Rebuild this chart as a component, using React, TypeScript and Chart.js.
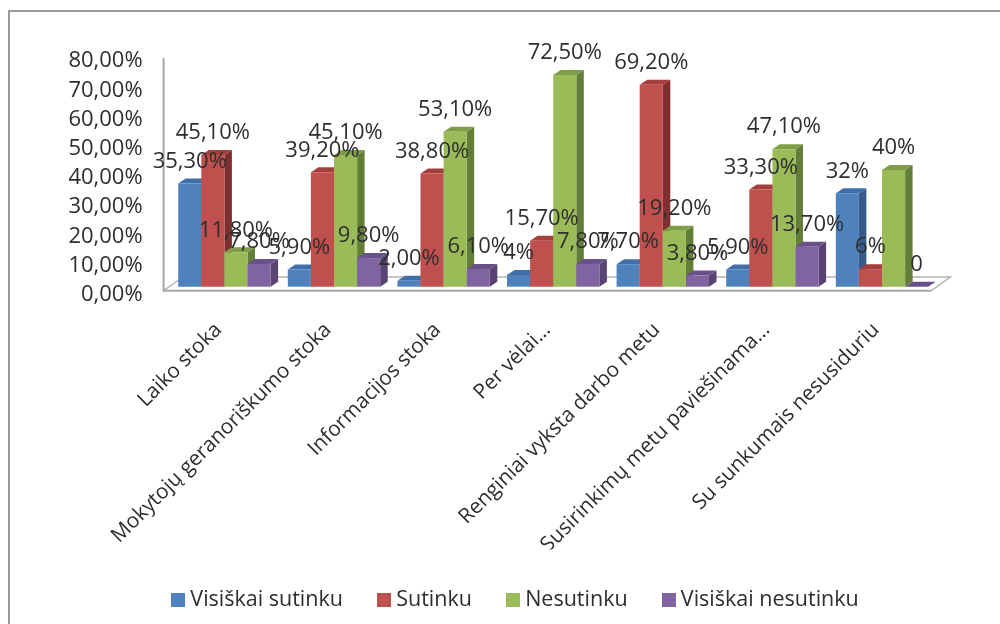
import React, { useEffect, useRef } from "react";
import { Chart, registerables } from "chart.js";

Chart.register(...registerables);

const categories = [
  "Laiko stoka",
  "Mokytojų geranoriškumo stoka",
  "Informacijos stoka",
  "Per vėlai…",
  "Renginiai vyksta darbo metu",
  "Susirinkimų metu paviešinama…",
  "Su sunkumais nesusiduriu",
];
const visiskaiSutinku = [35.3, 5.9, 2.0, 4, 7.7, 5.9, 32];
const sutinku = [45.1, 39.2, 38.8, 15.7, 69.2, 33.3, 6];
const nesutinku = [11.8, 45.1, 53.1, 72.5, 19.2, 47.1, 40];
const visiskaiNesutinku = [7.8, 9.8, 6.1, 7.8, 3.8, 13.7, 0];

const visiskaiSutinkuLabels = ["35,30%", "5,90%", "2,00%", "4%", "7,70%", "5,90%", "32%"];
const sutinkuLabels = ["45,10%", "39,20%", "38,80%", "15,70%", "69,20%", "33,30%", "6%"];
const nesutinkuLabels = ["11,80%", "45,10%", "53,10%", "72,50%", "19,20%", "47,10%", "40%"];
const visiskaiNesutinkuLabels = ["7,80%", "9,80%", "6,10%", "7,80%", "3,80%", "13,70%", "0"];

const yTickLabels = ["0,00%", "10,00%", "20,00%", "30,00%", "40,00%", "50,00%", "60,00%", "70,00%", "80,00%"];

const FONT = "'Open Sans', sans-serif";
const TEXT = "#2e2e2e";
const DEPTH_X = 7.5;
const DEPTH_Y = 5;

const faces = [
  { front: "#4F81BD", side: "#375C8C", top: "#3F6EA8" },
  { front: "#C0504D", side: "#7F302E", top: "#A43F3C" },
  { front: "#9BBB59", side: "#637E38", top: "#7F9D45" },
  { front: "#8064A2", side: "#574374", top: "#6A5189" },
];
const barLabels = [visiskaiSutinkuLabels, sutinkuLabels, nesutinkuLabels, visiskaiNesutinkuLabels];

function swatch(color: string) {
  const c = document.createElement("canvas");
  c.width = 14;
  c.height = 14;
  const g = c.getContext("2d")!;
  g.fillStyle = color;
  g.fillRect(0, 0, 14, 14);
  return c;
}

const scenePlugin = {
  id: "scene",
  afterLayout(chart: any) {
    chart.legend.left += 19.5;
    chart.legend.right += 19.5;
  },
  beforeDraw(chart: any) {
    const { ctx, chartArea } = chart;
    ctx.save();
    ctx.fillStyle = "#ffffff";
    ctx.fillRect(0, 0, chart.width, chart.height);
    ctx.strokeStyle = "#9a9a9a";
    ctx.lineWidth = 2;
    ctx.beginPath();
    ctx.moveTo(9, chart.height);
    ctx.lineTo(9, 11);
    ctx.lineTo(chart.width, 11);
    ctx.stroke();

    const b = chartArea.bottom;
    const l = chartArea.left - 6;
    const r = chartArea.right - 5.5;
    ctx.strokeStyle = "#b4b4b4";
    ctx.lineWidth = 1.5;
    ctx.beginPath();
    ctx.moveTo(l + 19.5, b - 9.7);
    ctx.lineTo(r + 19, b - 9.7);
    ctx.lineTo(r, b + 4);
    ctx.moveTo(l, b + 4);
    ctx.lineTo(l + 19.5, b - 9.7);
    ctx.stroke();
    ctx.strokeStyle = "#a8a8a8";
    ctx.lineWidth = 2;
    ctx.beginPath();
    ctx.moveTo(l, chartArea.top + 5);
    ctx.lineTo(l, b + 4);
    ctx.lineTo(r, b + 4);
    ctx.stroke();
    ctx.restore();
  },
  // Bars go left to right, so each front face covers the side of the bar before it.
  beforeDatasetsDraw(chart: any) {
    const { ctx } = chart;
    chart.data.datasets.forEach((_: any, i: number) => {
      const meta = chart.getDatasetMeta(i);
      const face = faces[i];
      ctx.save();
      meta.data.forEach((bar: any) => {
        const { x, y, base, width } = bar.getProps(["x", "y", "base", "width"], true);
        const right = x + width / 2;
        const left = x - width / 2;
        ctx.fillStyle = face.side;
        ctx.beginPath();
        ctx.moveTo(right, y);
        ctx.lineTo(right + DEPTH_X, y - DEPTH_Y);
        ctx.lineTo(right + DEPTH_X, base - DEPTH_Y);
        ctx.lineTo(right, base);
        ctx.closePath();
        ctx.fill();
        ctx.fillStyle = face.top;
        ctx.beginPath();
        ctx.moveTo(left, y);
        ctx.lineTo(left + DEPTH_X, y - DEPTH_Y);
        ctx.lineTo(right + DEPTH_X, y - DEPTH_Y);
        ctx.lineTo(right, y);
        ctx.closePath();
        ctx.fill();
      });
      ctx.restore();
      meta.controller.draw();
    });
  },
  beforeDatasetDraw() {
    return false;
  },
  afterDatasetsDraw(chart: any) {
    const { ctx } = chart;
    ctx.save();
    ctx.font = `22px ${FONT}`;
    ctx.fillStyle = TEXT;
    ctx.textAlign = "center";
    ctx.textBaseline = "middle";
    chart.data.datasets.forEach((_: any, i: number) => {
      chart.getDatasetMeta(i).data.forEach((bar: any, j: number) => {
        ctx.fillText(barLabels[i][j], bar.x, bar.y - 22);
      });
    });
    ctx.restore();
  },
};

export default function App() {
  const ref = useRef<HTMLCanvasElement>(null);
  useEffect(() => {
    if (!ref.current) return;
    const series = [
      ["Visiškai sutinku", visiskaiSutinku],
      ["Sutinku", sutinku],
      ["Nesutinku", nesutinku],
      ["Visiškai nesutinku", visiskaiNesutinku],
    ] as const;
    const chart = new Chart(ref.current, {
      type: "bar",
      data: {
        labels: categories,
        datasets: series.map(([label, data], i) => ({
          label,
          data: [...data],
          backgroundColor: faces[i].front,
          borderWidth: 0,
          barPercentage: 1,
          categoryPercentage: 0.843,
        })),
      },
      plugins: [scenePlugin],
      options: {
        responsive: false,
        animation: false,
        layout: { padding: { left: 60, right: 63.2, top: 53.1, bottom: 3 } },
        plugins: {
          tooltip: { enabled: false },
          title: { display: false },
          legend: {
            display: true,
            position: "bottom",
            labels: {
              usePointStyle: true,
              pointStyleWidth: 2.5,
              boxHeight: 14,
              padding: 40,
              color: TEXT,
              font: { family: FONT, size: 21.5 },
              generateLabels(chart: any) {
                const items = Chart.defaults.plugins.legend.labels.generateLabels(chart);
                items.forEach((item: any, i: number) => {
                  item.pointStyle = swatch(faces[i].front);
                });
                return items;
              },
            },
          },
        },
        scales: {
          x: {
            grid: { display: false, drawTicks: false },
            border: { display: false },
            ticks: {
              autoSkip: false,
              minRotation: 45,
              maxRotation: 45,
              padding: 31,
              labelOffset: -6,
              color: TEXT,
              font: { family: FONT, size: 20.8 },
            },
            afterFit(scale: any) {
              scale.height = 262.8;
            },
          },
          y: {
            min: 0,
            max: 80,
            grid: { display: false, drawTicks: false },
            border: { display: false },
            ticks: {
              autoSkip: false,
              stepSize: 10,
              padding: 27,
              labelOffset: 8,
              color: TEXT,
              font: { family: FONT, size: 22 },
              callback: (_v: any, i: number) => yTickLabels[i],
            },
            afterFit(scale: any) {
              scale.width = 109.6;
            },
          },
        },
      },
    } as any);
    return () => chart.destroy();
  }, []);
  return (
    <div style={{ position: "fixed", left: 0, top: 0, width: 1000, height: 624, background: "#fff" }}>
      <canvas ref={ref} width={1000} height={624} style={{ display: "block" }} />
    </div>
  );
}
